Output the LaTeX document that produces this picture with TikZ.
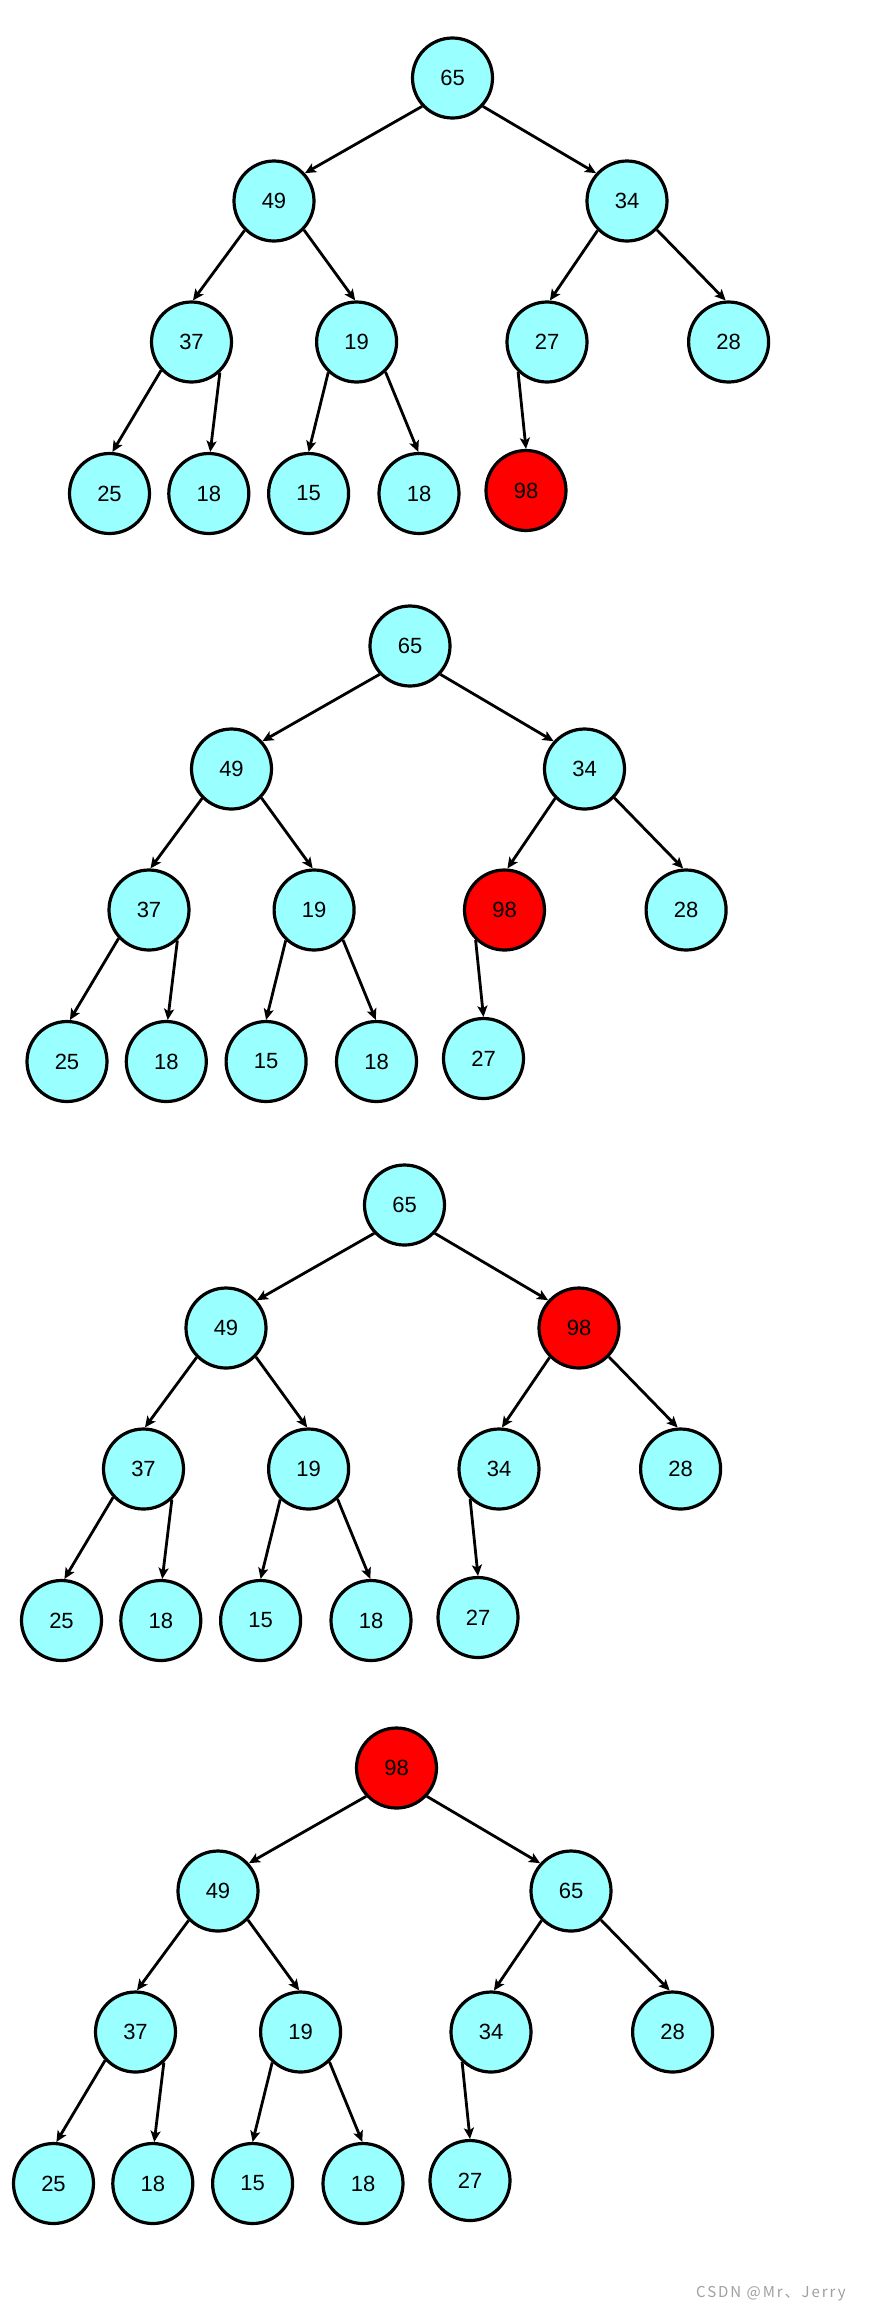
\documentclass[tikz,border=0pt]{standalone}
\usepackage{fontspec}
\setmainfont{Liberation Sans}
\newfontfamily\cjk[LetterSpace=13]{Noto Sans CJK SC}
\usetikzlibrary{arrows.meta,calc}
\definecolor{nodecyan}{RGB}{153,255,255}
\definecolor{nodered}{RGB}{255,0,0}
\definecolor{wmgray}{RGB}{160,160,160}
\tikzset{
  hnode/.style={circle, draw=black, line width=3.2pt, minimum size=80pt, inner sep=0pt,
    font=\fontsize{22}{22}\selectfont},
  cy/.style={hnode, fill=nodecyan},
  rd/.style={hnode, fill=nodered},
  edge/.style={line width=2.8pt, -{Stealth[length=11pt,width=10pt,inset=2.5pt]}},
}
\def\px{{452.5,274,627,191.5,356.6,547,728.6,109.5,208.8,308.6,419,526}}
\def\py{{78,201,201,342,342,342,342,493.5,493.5,493.5,493.5,490.5}}
\newcommand\heaptree[4]{%
  \foreach [count=\i from 0] \lab/\st in {#4} {
    \pgfmathsetmacro{\xx}{\px[\i]+#2}
    \pgfmathsetmacro{\yy}{-(\py[\i]+#3)}
    \node[\st] (#1\i) at (\xx,\yy) {\lab};
  }
  \foreach \p/\c/\a/\b in {0/1/223/42, 0/2/317/138, 1/3/225/88, 1/4/316/92,
      2/5/225/86, 2/6/316/94, 3/7/223/86, 3/8/313/88.5, 4/9/227/90,
      4/10/314/91.5, 5/11/226/90} {
    \draw[edge] (#1\p.\a) -- (#1\c.\b);
  }
}
\begin{document}
\begin{tikzpicture}[x=1pt,y=1pt]
\fill[white] (0,0) rectangle (870,-2316);
\useasboundingbox (0,0) rectangle (870,-2316);
\heaptree{a}{0}{0}{65/cy,49/cy,34/cy,37/cy,19/cy,27/cy,28/cy,25/cy,18/cy,15/cy,18/cy,98/rd}
\heaptree{b}{-42.5}{568}{65/cy,49/cy,34/cy,37/cy,19/cy,98/rd,28/cy,25/cy,18/cy,15/cy,18/cy,27/cy}
\heaptree{c}{-48}{1127}{65/cy,49/cy,98/rd,37/cy,19/cy,34/cy,28/cy,25/cy,18/cy,15/cy,18/cy,27/cy}
\heaptree{d}{-56}{1690}{98/rd,49/cy,65/cy,37/cy,19/cy,34/cy,28/cy,25/cy,18/cy,15/cy,18/cy,27/cy}
\node[anchor=west, inner sep=0pt, text=wmgray, font=\cjk\fontsize{15}{15}\selectfont] (wm) at (696,-2294) {CSDN @Mr、Jerry};
\end{tikzpicture}
\end{document}
